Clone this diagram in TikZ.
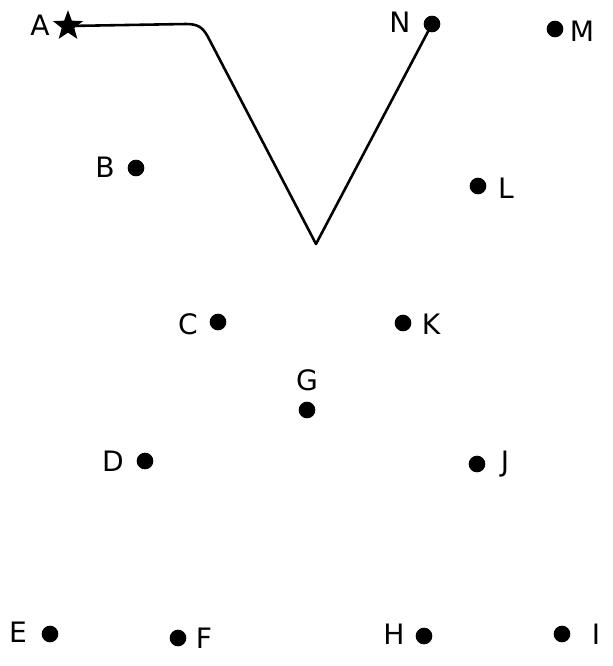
\documentclass[tikz,border=0pt]{standalone}
\usepackage{fontspec}
\setmainfont{DejaVu Sans}
\usetikzlibrary{shapes.geometric}

\tikzset{
  dot/.style={circle, fill=black, inner sep=0pt, minimum size=0.5cm},
  letter/.style={font=\fontsize{24}{28}\selectfont, inner sep=0pt},
  trail/.style={line width=2.2pt, line join=round, line cap=round}
}

\begin{document}
\begin{tikzpicture}[x=0.03cm, y=-0.03cm]

% Page frame (pixel units, y downwards)
\useasboundingbox (0,0) rectangle (613,666);

% ============================================================
% Start point: star at A
% ============================================================
\node[star, star points=5, star point ratio=2.4, fill=black,
      inner sep=0pt, minimum size=0.95cm] (A) at (68,26) {};
\node[letter] (lA) at (40,25) {A};

% ============================================================
% Dots N .. B
% ============================================================
\foreach \name/\x/\y in {N/432/24, M/555/29, B/136/168, L/478/186,
                         C/218/322, K/403/323, G/307/410, D/145/461,
                         J/477/464, E/50/634, F/178/638, H/424/636,
                         I/562/634}{
  \node[dot] (\name) at (\x,\y) {};
}

% Letters beside the dots
\foreach \name/\x/\y in {N/400/22, M/582/31, B/105/167, L/506/188,
                         C/188/324, K/431/324, G/307/380, D/113/461,
                         J/505/464, E/18/632, F/204/638, H/394/634,
                         I/596/634}{
  \node[letter] (l\name) at (\x,\y) {\name};
}

% ============================================================
% Line drawn so far: A -> bend -> N
% ============================================================
\coordinate (bend) at (316,244);
\draw[trail] (A.center) -- (186,24) .. controls (199,24) and (203,28) .. (208,37)
  -- (bend) -- (N.center);

\end{tikzpicture}
\end{document}
